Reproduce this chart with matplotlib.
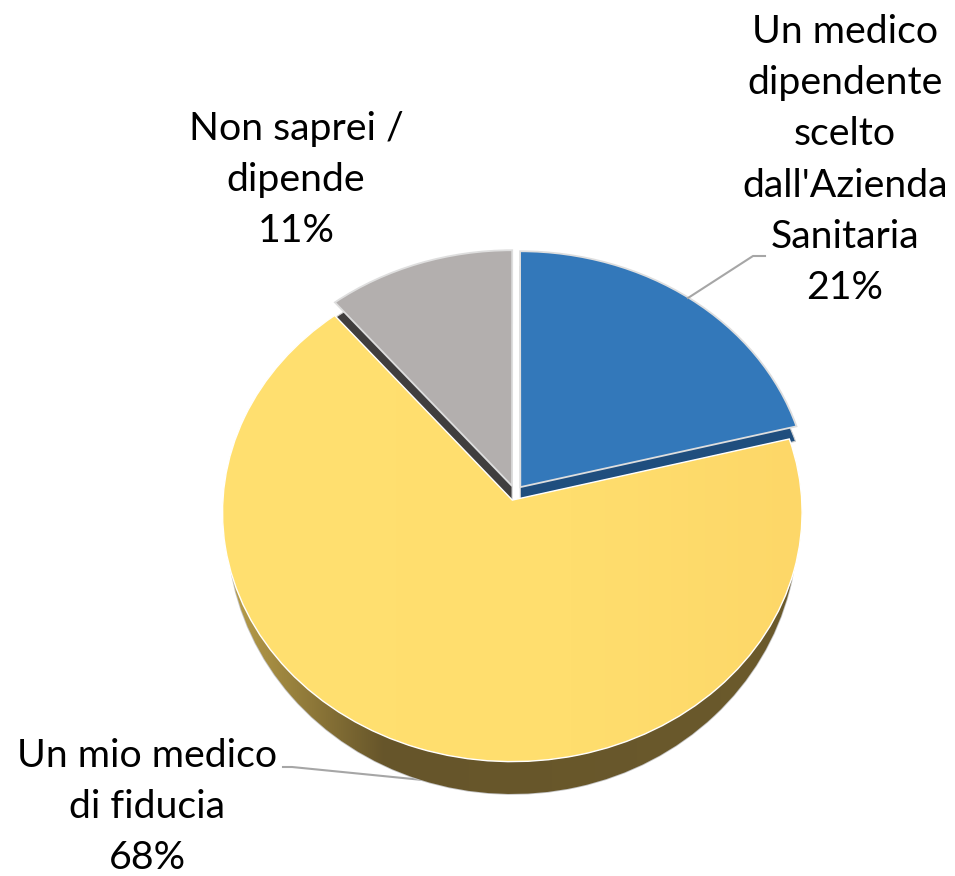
import numpy as np
import matplotlib
matplotlib.use("Agg")
import matplotlib.pyplot as plt
from matplotlib.transforms import Transform
from matplotlib.colors import LinearSegmentedColormap

categories = ["Un medico\ndipendente\nscelto\ndall'Azienda\nSanitaria", "Un mio medico\ndi fiducia", "Non saprei /\ndipende"]
values = [21, 68, 11]
top_colors = ["#3378BA", "#FEDD6E", "#B3AFAE"]
wall_colors = ["#1F4E7E", "#66552A", "#403E3E"]

W, H = 955, 876
plt.rcParams['font.family'] = ['Lato', 'DejaVu Sans']
fig = plt.figure(figsize=(W / 100, H / 100), dpi=100)
ax = fig.add_axes([0, 0, 1, 1])


class Persp(Transform):
    input_dims = output_dims = 2
    is_separable = False
    has_inverse = False

    def __init__(self, cx, cy, ax_, ay_, k):
        super().__init__()
        self.p = (cx, cy, ax_, ay_, k)

    def transform_non_affine(self, v):
        cx, cy, a, b, k = self.p
        v = np.asarray(v, float)
        w = 1 + k * v[:, 1]
        return np.column_stack([cx + a * v[:, 0] / w, H - (cy - b * v[:, 1] / w)])


top_t = Persp(515, 493, 289, 248, 0.049)
wall_t = Persp(515, 508, 288, 248, 0.049)
side_t = Persp(515, 508, 284, 264, 0.049)
explode = [0.03, 0.03, 0.03]


def layer(tr, z, colors=None, edge="none", lw=0, fill=True):
    wedges, _ = ax.pie(values, explode=explode, startangle=90, counterclock=False,
                       colors=colors if colors else top_colors,
                       wedgeprops=dict(edgecolor=edge, linewidth=lw, fill=fill))
    for wd in wedges:
        wd.set_transform(tr)
        wd.set_clip_on(False)
        wd.set_zorder(z)
    return wedges


def gradient(patch, stops, z):
    cmap = LinearSegmentedColormap.from_list("g", stops)
    im = ax.imshow(np.linspace(0, 1, 256)[None, :], cmap=cmap, aspect="auto",
                   extent=(220, 805, 800, 240), zorder=z)
    im.set_clip_path(patch)


# yellow outer side
side = layer(side_t, 1, colors=wall_colors, edge="#C4C4C4", lw=1.2)
for i in (0, 2):
    side[i].set_visible(False)
gradient(side[1], [(0, "#BDA24C"), (0.08, "#A68D42"), (0.28, "#66552A"), (1, "#6B5A2C")], 1.5)

# cut walls of blue and grey
walls = layer(wall_t, 2, colors=wall_colors, edge="#D0D0D0", lw=0.8)
walls[1].set_visible(False)

# tops
tops = layer(top_t, 3, edge="none")
tops[0].set_visible(False)
tops[2].set_visible(False)
gradient(tops[1], [(0, "#FFE070"), (0.6, "#FFDE6E"), (1, "#FDD768")], 3.1)
edges = layer(top_t, 4, colors=["none"] * 3, edge="#FFFFFF", lw=1.0, fill=False)
edges[0].set_visible(False)
edges[2].set_visible(False)
blue_grey = layer(top_t, 5, edge="#DEDEDE", lw=1.3)
blue_grey[1].set_visible(False)

# leader lines
ax.plot([688, 753, 765], [298, 256, 256], color="#A6A6A6", lw=1.5, zorder=6, clip_on=False)
ax.plot([283, 292, 423], [767, 767, 780], color="#A6A6A6", lw=1.5, zorder=0.5, clip_on=False)

# labels
positions = [(845, 160), (147, 807), (296, 180)]
for cat, val, (x, y) in zip(categories, values, positions):
    ax.text(x, y, f"{cat}\n{val}%", ha="center", va="center", ma="center",
            fontsize=28.3, linespacing=1.52, color="black", zorder=7)

ax.set_xlim(0, W)
ax.set_ylim(H, 0)
ax.set_aspect("auto")
ax.axis("off")
fig.savefig("out.png", dpi=100, facecolor="white")
